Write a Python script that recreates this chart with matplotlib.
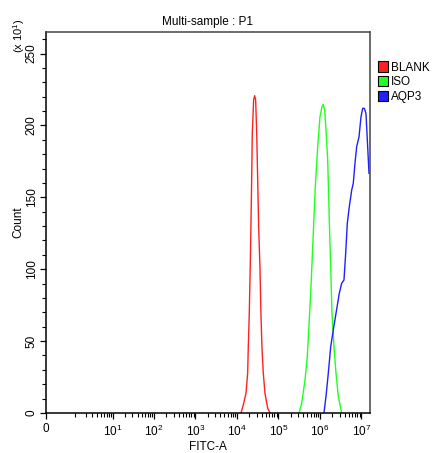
import numpy as np
import matplotlib
matplotlib.use("Agg")
import matplotlib.pyplot as plt
from matplotlib.patches import Patch
from matplotlib.ticker import FixedLocator

plt.rcParams['font.family'] = ['Liberation Sans', 'DejaVu Sans']

# ---- data (FITC-A intensity, count in units of x10^1) ----
blank_x = [12500, 14200, 16500, 18100, 18750, 19800, 20900, 21700, 22600, 23400, 25200,
           26700, 28200, 29900, 31600, 33300, 35800, 37800, 40000, 43100, 47300, 55000, 62400]
blank_y = [0, 5.6, 13.7, 27.6, 46, 69.3, 101.8, 129.6, 162, 194.5, 217.7,
           220.7, 217.7, 194.5, 162, 129.6, 101.8, 69.3, 46, 27.6, 13.7, 3.3, 0]

iso_x = [312000, 362000, 436000, 494000, 552000, 607000, 690000, 771000, 881000, 1000000,
         1117000, 1202000, 1297000, 1396000, 1535000, 1675000, 1811000, 1945000, 2173000,
         2432000, 2761000, 3334000]
iso_y = [0, 6.7, 22.9, 39.1, 64.7, 87.9, 125, 157.4, 185.2, 206,
         213, 214.7, 210.7, 196.8, 176, 134.3, 101.8, 69.3, 46, 27.6, 11.6, 0]

aqp3_x = [1247000, 1396000, 1585000, 1811000, 2089000, 2432000, 2917000, 3334000, 3784000,
          4159000, 4550000, 5082000, 5808000, 6339000, 6966000, 7656000, 8710000, 9727000,
          10690000, 11670000, 12820000, 14090000, 15170000]
aqp3_y = [0, 11.6, 27.6, 46, 57.6, 69.3, 83.2, 90.2, 92.5,
          111, 131.8, 143.4, 155, 159.7, 173.6, 185.2, 192, 206,
          211.9, 211.9, 208.4, 185.2, 166.7]

series_names = ["BLANK", "ISO", "AQP3"]
series_colors = ["#ff2020", "#20ff20", "#2020ff"]

x_major = [0, 10, 100, 1000, 10000, 100000, 1000000, 10000000]
x_major_labels = ["0", r"$\mathregular{10^{1}}$", r"$\mathregular{10^{2}}$", r"$\mathregular{10^{3}}$",
                  r"$\mathregular{10^{4}}$", r"$\mathregular{10^{5}}$", r"$\mathregular{10^{6}}$",
                  r"$\mathregular{10^{7}}$"]
y_major = [0, 50, 100, 150, 200, 250]

# ---- scale: log-like display with zero on the axis ----
OFFSET = 0.251
def fwd(v):
    v = np.asarray(v, dtype=float)
    return np.log10(np.maximum(v, 0) + OFFSET)
def inv(u):
    u = np.asarray(u, dtype=float)
    return 10 ** u - OFFSET

fig = plt.figure(figsize=(4.33, 4.53), dpi=100)
ax = fig.add_axes([46/433, 40/453, (370-46)/433, (413-32)/453])
ax.set_xscale('function', functions=(fwd, inv))

for xs, ys, col in zip([blank_x, iso_x, aqp3_x], [blank_y, iso_y, aqp3_y], series_colors):
    ax.plot(xs, ys, color=col, lw=1.0)

ax.set_xlim(0, 10 ** 7.205)
ax.set_ylim(0, 265)

minors = []
for k in range(0, 7):
    for m in range(2 if k > 0 else 1, 10):
        minors.append(m * 10 ** k)
ax.xaxis.set_major_locator(FixedLocator(x_major))
ax.xaxis.set_minor_locator(FixedLocator(minors))
ax.set_xticklabels(x_major_labels)
ax.yaxis.set_major_locator(FixedLocator(y_major))
ax.yaxis.set_minor_locator(FixedLocator([v for v in range(10, 270, 10) if v % 50]))
ax.set_yticklabels([str(v) for v in y_major], rotation=90, va='center')

ax.tick_params(axis='both', which='major', length=4.5, width=0.9, labelsize=8.5, color='black')
ax.tick_params(axis='both', which='minor', length=3, width=0.8, color='black')
ax.tick_params(axis='x', pad=3)
ax.tick_params(axis='y', pad=1.5)

for s in ['left', 'bottom']:
    ax.spines[s].set_color('black')
    ax.spines[s].set_linewidth(1.1)
for s in ['top', 'right']:
    ax.spines[s].set_color('#444444')
    ax.spines[s].set_linewidth(1.1)

ax.set_title("Multi-sample : P1", fontsize=8.5, pad=5)
ax.set_xlabel("FITC-A", fontsize=8.5, labelpad=2)
ax.set_ylabel("Count", fontsize=8.5, labelpad=1)
fig.text(19/433, 1 - 36/453, r"(x $\mathregular{10^{1}}$)", rotation=90, ha='center', va='center', fontsize=8)

handles = [Patch(facecolor=c, edgecolor='black', linewidth=0.8) for c in series_colors]
leg = ax.legend(handles, series_names, loc='upper left', bbox_to_anchor=(1.0, 0.945),
                frameon=False, fontsize=8.5, handlelength=0.8, handleheight=1.0,
                handletextpad=0.3, labelspacing=0.2, borderaxespad=0.3)

fig.savefig("out.png", dpi=100)
